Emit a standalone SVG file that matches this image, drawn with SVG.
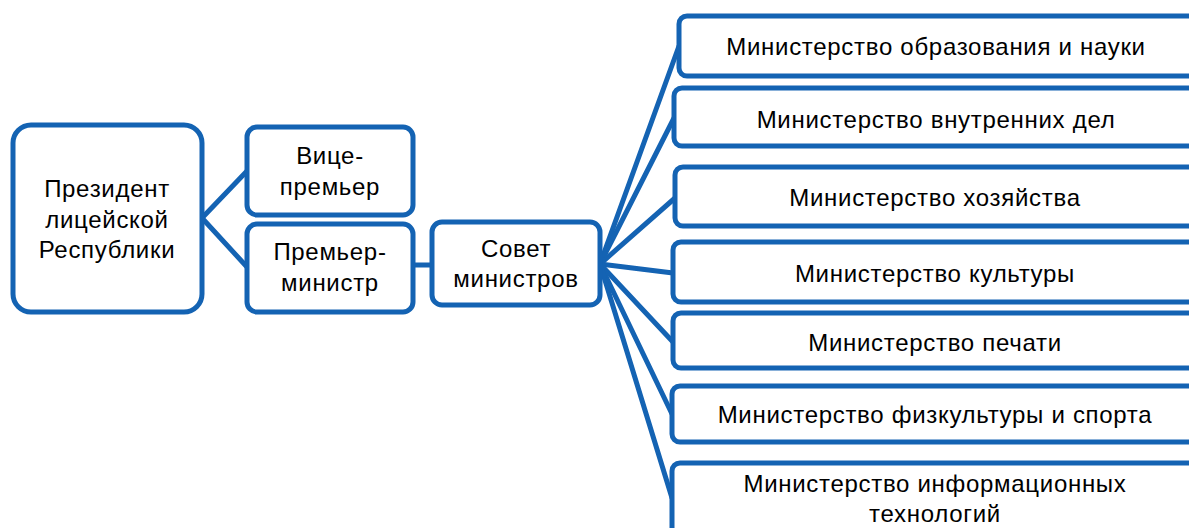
<svg xmlns="http://www.w3.org/2000/svg" width="1189" height="528" viewBox="0 0 1189 528">
<style>
.box{fill:#fff;stroke:#1463b3;stroke-width:5}
.ln{stroke:#1463b3;stroke-width:5;fill:none;stroke-linecap:round}
text{font-family:"Liberation Sans",Arial,sans-serif;font-size:24px;letter-spacing:0.7px;fill:#000;text-anchor:middle}
</style>
<rect width="1189" height="528" fill="#fff"/>
<g id="connectors">
<line class="ln" x1="202" y1="218" x2="247" y2="171"/>
<line class="ln" x1="202" y1="218" x2="247" y2="267"/>
<line class="ln" x1="413" y1="265" x2="432" y2="265"/>
<line class="ln" x1="600" y1="264" x2="679" y2="46"/>
<line class="ln" x1="600" y1="264" x2="674" y2="118"/>
<line class="ln" x1="600" y1="264" x2="675" y2="198"/>
<line class="ln" x1="600" y1="264" x2="673" y2="273"/>
<line class="ln" x1="600" y1="264" x2="673" y2="342"/>
<line class="ln" x1="600" y1="264" x2="672" y2="414"/>
<line class="ln" x1="600" y1="264" x2="672" y2="498"/>
</g>
<g id="president">
<rect class="box" x="13" y="125" width="189" height="187" rx="18"/>
<text x="107" y="197">Президент</text>
<text x="107" y="228">лицейской</text>
<text x="107" y="258">Республики</text>
</g>
<g id="vice">
<rect class="box" x="247" y="127" width="166" height="88" rx="10"/>
<text x="330" y="164">Вице-</text>
<text x="330" y="195">премьер</text>
</g>
<g id="premier">
<rect class="box" x="247" y="224" width="166" height="88" rx="10"/>
<text x="330" y="260">Премьер-</text>
<text x="330" y="291">министр</text>
</g>
<g id="council">
<rect class="box" x="432" y="222" width="168" height="83" rx="10"/>
<text x="516" y="257">Совет</text>
<text x="516" y="287">министров</text>
</g>
<g id="m1">
<rect class="box" x="679" y="16" width="540" height="60" rx="8"/>
<text x="936" y="55">Министерство образования и науки</text>
</g>
<g id="m2">
<rect class="box" x="674" y="88" width="545" height="58" rx="8"/>
<text x="936" y="128">Министерство внутренних дел</text>
</g>
<g id="m3">
<rect class="box" x="675" y="167" width="544" height="59" rx="8"/>
<text x="935" y="206">Министерство хозяйства</text>
</g>
<g id="m4">
<rect class="box" x="673" y="242" width="546" height="60" rx="8"/>
<text x="935" y="282">Министерство культуры</text>
</g>
<g id="m5">
<rect class="box" x="673" y="313" width="546" height="55" rx="8"/>
<text x="935" y="351">Министерство печати</text>
</g>
<g id="m6">
<rect class="box" x="672" y="386" width="547" height="56" rx="8"/>
<text x="935" y="423">Министерство физкультуры и спорта</text>
</g>
<g id="m7">
<rect class="box" x="672" y="463" width="547" height="90" rx="8"/>
<text x="935" y="492">Министерство информационных</text>
<text x="935" y="522">технологий</text>
</g>
</svg>
